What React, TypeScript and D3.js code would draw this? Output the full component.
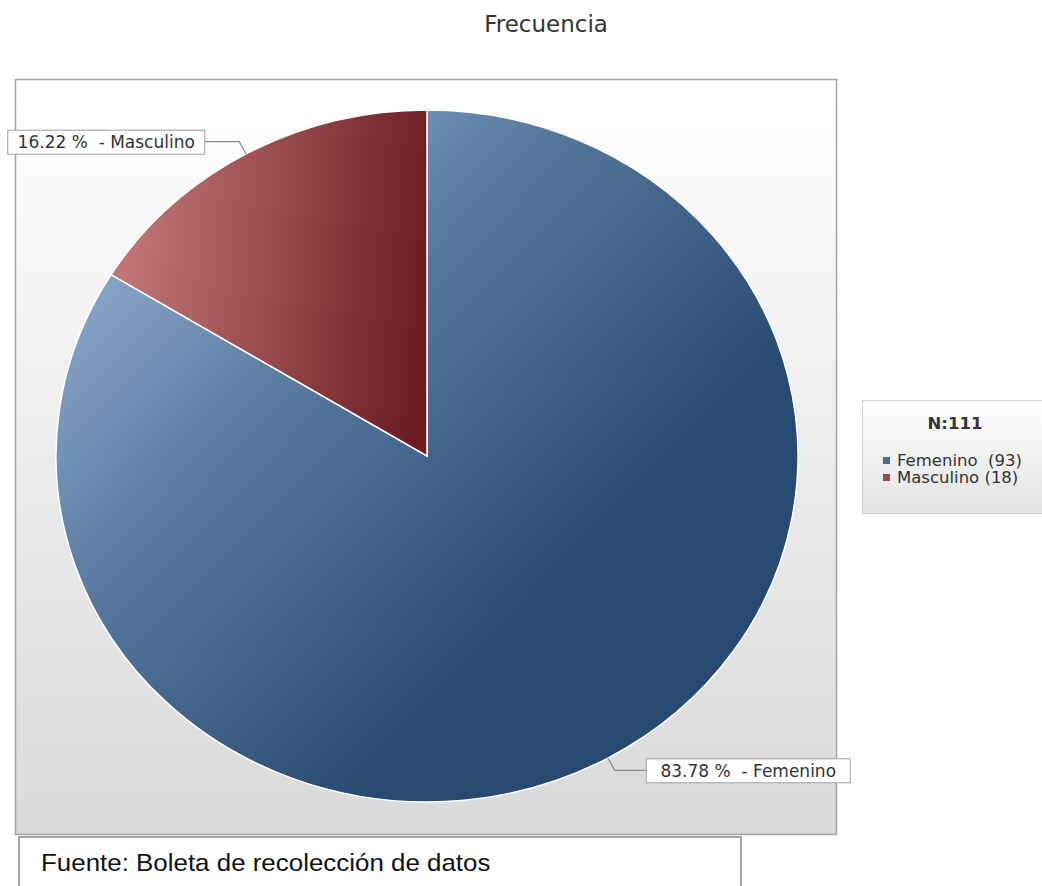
import React from "react";
import * as d3 from "d3";

const categories = ["Femenino", "Masculino"];
const counts = [93, 18];
const percentLabels = ["83.78 %", "16.22 %"];
const legendCounts = ["(93)", "(18)"];
const titleText = "Frecuencia";
const legendTitle = "N:111";
const sourceText = "Fuente: Boleta de recolección de datos";

const W = 1042;
const H = 886;
const cx = 427;
const cy = 456;
const ry = 346;
const rx = 371;

export default function App() {
  const pie = d3.pie<number>().sort(null).value((d) => d);
  const arcs = pie(counts);
  const arcGen = d3.arc<d3.PieArcDatum<number>>().innerRadius(0).outerRadius(ry);
  const sx = rx / ry;
  const fills = ["url(#gFem)", "url(#gMas)"];
  const markerColors = ["#4a6b93", "#a3454b"];

  const labels = arcs.map((a, i) => {
    const mid = (a.startAngle + a.endAngle) / 2;
    const ex = cx + rx * Math.sin(mid);
    const ey = cy - ry * Math.cos(mid);
    const bx = ex + 14 * Math.sin(mid);
    const by = ey - 14 * Math.cos(mid);
    const right = Math.sin(mid) > 0;
    const hx = right ? bx + 31 : bx - 35;
    return { i, ex, ey, bx, by, hx, right };
  });

  return (
    <svg width={W} height={H} style={{ position: "absolute", left: 0, top: 0, background: "#fff" }}>
      <defs>
        <linearGradient id="gPlot" x1="0" y1="0" x2="0" y2="1">
          <stop offset="0" stopColor="#ffffff" />
          <stop offset="1" stopColor="#d9d9d9" />
        </linearGradient>
        <linearGradient id="gLeg" x1="0" y1="0" x2="0" y2="1">
          <stop offset="0" stopColor="#ffffff" />
          <stop offset="1" stopColor="#e2e2e2" />
        </linearGradient>
        <linearGradient id="gFem" x1="0" y1="0.22" x2="0.62" y2="0.78">
          <stop offset="0" stopColor="#90aed0" />
          <stop offset="0.45" stopColor="#56769d" />
          <stop offset="1" stopColor="#284a70" />
        </linearGradient>
        <linearGradient id="gMas" x1="0" y1="0.45" x2="1" y2="0.55">
          <stop offset="0" stopColor="#c47a7a" />
          <stop offset="1" stopColor="#6a1d21" />
        </linearGradient>
      </defs>

      <text x={546} y={32} textAnchor="middle" fontFamily="DejaVu Sans" fontSize={23} fill="#333">
        {titleText}
      </text>

      <rect x={15.5} y={79.5} width={821} height={755} fill="url(#gPlot)" stroke="#a3a3a3" strokeWidth={1.5} />

      <g transform={`translate(${cx},${cy}) scale(${sx},1)`}>
        {arcs.map((a, i) => (
          <path key={categories[i]} d={arcGen(a) || ""} fill={fills[i]} stroke="#ffffff" strokeWidth={1.5} vectorEffect="non-scaling-stroke" />
        ))}
      </g>

      {labels.map((l) => {
        const text = `${percentLabels[l.i]}  - ${categories[l.i]}`;
        const boxW = l.right ? 204 : 197;
        const boxX = l.right ? l.hx : l.hx - boxW;
        return (
          <g key={l.i}>
            <polyline
              points={`${l.ex},${l.ey} ${l.bx},${l.by} ${l.hx},${l.by}`}
              fill="none"
              stroke="#8a8a8a"
              strokeWidth={1.2}
            />
            <rect x={boxX + 0.5} y={l.by - 12 + 0.5} width={boxW} height={24} fill="#fff" stroke="#a0a0a0" strokeWidth={1} />
            <text x={boxX + boxW / 2 + 0.5} y={l.by + 6.5} textAnchor="middle" fontFamily="DejaVu Sans" fontSize={17} fill="#333" style={{ whiteSpace: "pre" }}>
              {text}
            </text>
          </g>
        );
      })}

      <rect x={862.5} y={400.5} width={186} height={113} fill="url(#gLeg)" stroke="#cfcfcf" strokeWidth={1} />
      <text x={955} y={429} textAnchor="middle" fontFamily="DejaVu Sans" fontWeight="bold" fontSize={16.5} fill="#333">
        {legendTitle}
      </text>
      {categories.map((c, i) => (
        <g key={c}>
          <rect x={883} y={457 + i * 17} width={7} height={7} fill={markerColors[i]} />
          <text x={897} y={466 + i * 17} fontFamily="DejaVu Sans" fontSize={16.5} fill="#333" style={{ whiteSpace: "pre" }}>
            {`${c}${i === 0 ? "  " : " "}${legendCounts[i]}`}
          </text>
        </g>
      ))}

      <rect x={19} y={837} width={722} height={70} fill="#fff" stroke="#a6a6a6" strokeWidth={2} />
      <text transform="translate(41,871) scale(1.08,1)" fontFamily="Liberation Sans" fontSize={24} fill="#111">
        {sourceText}
      </text>
    </svg>
  );
}
